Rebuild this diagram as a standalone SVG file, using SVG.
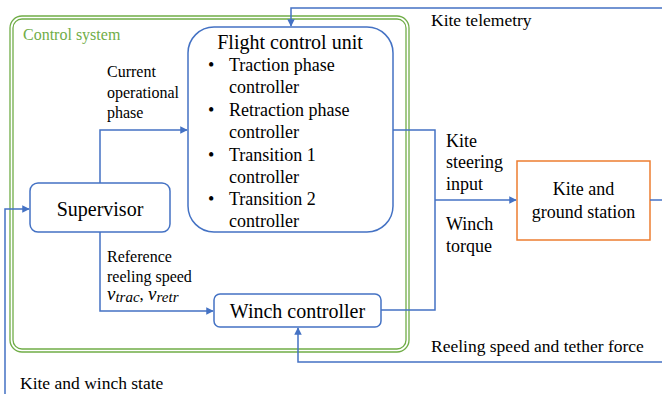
<svg xmlns="http://www.w3.org/2000/svg" width="662" height="394" viewBox="0 0 662 394" font-family="Liberation Serif, serif">
<defs>
<marker id="ah" viewBox="0 0 10 10" refX="9" refY="5" markerWidth="5" markerHeight="5" orient="auto" markerUnits="strokeWidth">
<path d="M0,0 L10,5 L0,10 z" fill="#4472C4"/>
</marker>
</defs>
<rect width="662" height="394" fill="#fff"/>
<g id="control-system" fill="none" stroke="#70AD47" stroke-width="1.3">
<rect x="10" y="16" width="399" height="336" rx="12"/>
<rect x="13" y="19" width="393" height="330" rx="9"/>
<text x="23" y="40" font-size="16" fill="#70AD47" stroke="none">Control system</text>
</g>
<g id="flight-control-unit" fill="#000">
<rect x="188" y="27" width="205" height="205" rx="26" fill="#fff" stroke="#4472C4" stroke-width="1.5"/>
<text x="290" y="49" font-size="20" text-anchor="middle">Flight control unit</text>
<text x="208" y="71" font-size="18">•</text>
<text x="229" y="71" font-size="18">Traction phase</text>
<text x="229" y="93" font-size="18">controller</text>
<text x="208" y="116" font-size="18">•</text>
<text x="229" y="116" font-size="18">Retraction phase</text>
<text x="229" y="138" font-size="18">controller</text>
<text x="208" y="161" font-size="18">•</text>
<text x="229" y="161" font-size="18">Transition 1</text>
<text x="229" y="183" font-size="18">controller</text>
<text x="208" y="205" font-size="18">•</text>
<text x="229" y="205" font-size="18">Transition 2</text>
<text x="229" y="227" font-size="18">controller</text>
</g>
<g id="supervisor" fill="#000">
<rect x="30" y="183" width="140" height="49" rx="8" fill="#fff" stroke="#4472C4" stroke-width="1.5"/>
<text x="100" y="216" font-size="20" text-anchor="middle">Supervisor</text>
</g>
<g id="winch-controller" fill="#000">
<rect x="214" y="294" width="167" height="33" rx="6" fill="#fff" stroke="#4472C4" stroke-width="1.5"/>
<text x="297.5" y="318" font-size="20" text-anchor="middle">Winch controller</text>
</g>
<g id="kite-ground-station" fill="#000">
<rect x="517" y="161" width="133" height="79" fill="#fff" stroke="#ED7D31" stroke-width="1.5"/>
<text x="583.5" y="195" font-size="18" text-anchor="middle">Kite and</text>
<text x="583.5" y="218" font-size="18" text-anchor="middle">ground station</text>
</g>
<g id="connectors" fill="none" stroke="#4472C4" stroke-width="1.5">
<path d="M662,8 H291 V26" marker-end="url(#ah)"/>
<path d="M100,183 V130 H187" marker-end="url(#ah)"/>
<path d="M393,130 H435 V310 H381"/>
<path d="M435,200 H516" marker-end="url(#ah)"/>
<path d="M650,200 H662"/>
<path d="M662,362 H298 V328" marker-end="url(#ah)"/>
<path d="M100,232 V311 H213" marker-end="url(#ah)"/>
<path d="M5,394 V209 H29" marker-end="url(#ah)"/>
</g>
<g id="labels" fill="#000">
<text x="431" y="26" font-size="17.5">Kite telemetry</text>
<text x="107" y="77" font-size="16">Current</text>
<text x="107" y="98" font-size="16">operational</text>
<text x="107" y="118" font-size="16">phase</text>
<text x="446" y="147" font-size="18">Kite</text>
<text x="446" y="168" font-size="18">steering</text>
<text x="446" y="190" font-size="18">input</text>
<text x="446" y="230" font-size="18">Winch</text>
<text x="446" y="252" font-size="18">torque</text>
<text x="107" y="262" font-size="16">Reference</text>
<text x="107" y="282" font-size="16">reeling speed</text>
<text x="107" y="300" font-size="19" font-style="italic">v<tspan font-size="15" dy="2">trac</tspan><tspan font-style="normal" font-size="17" dy="-2">, </tspan>v<tspan font-size="15" dy="2">retr</tspan></text>
<text x="431" y="352" font-size="17.5">Reeling speed and tether force</text>
<text x="20" y="389" font-size="17.5">Kite and winch state</text>
</g>
</svg>
